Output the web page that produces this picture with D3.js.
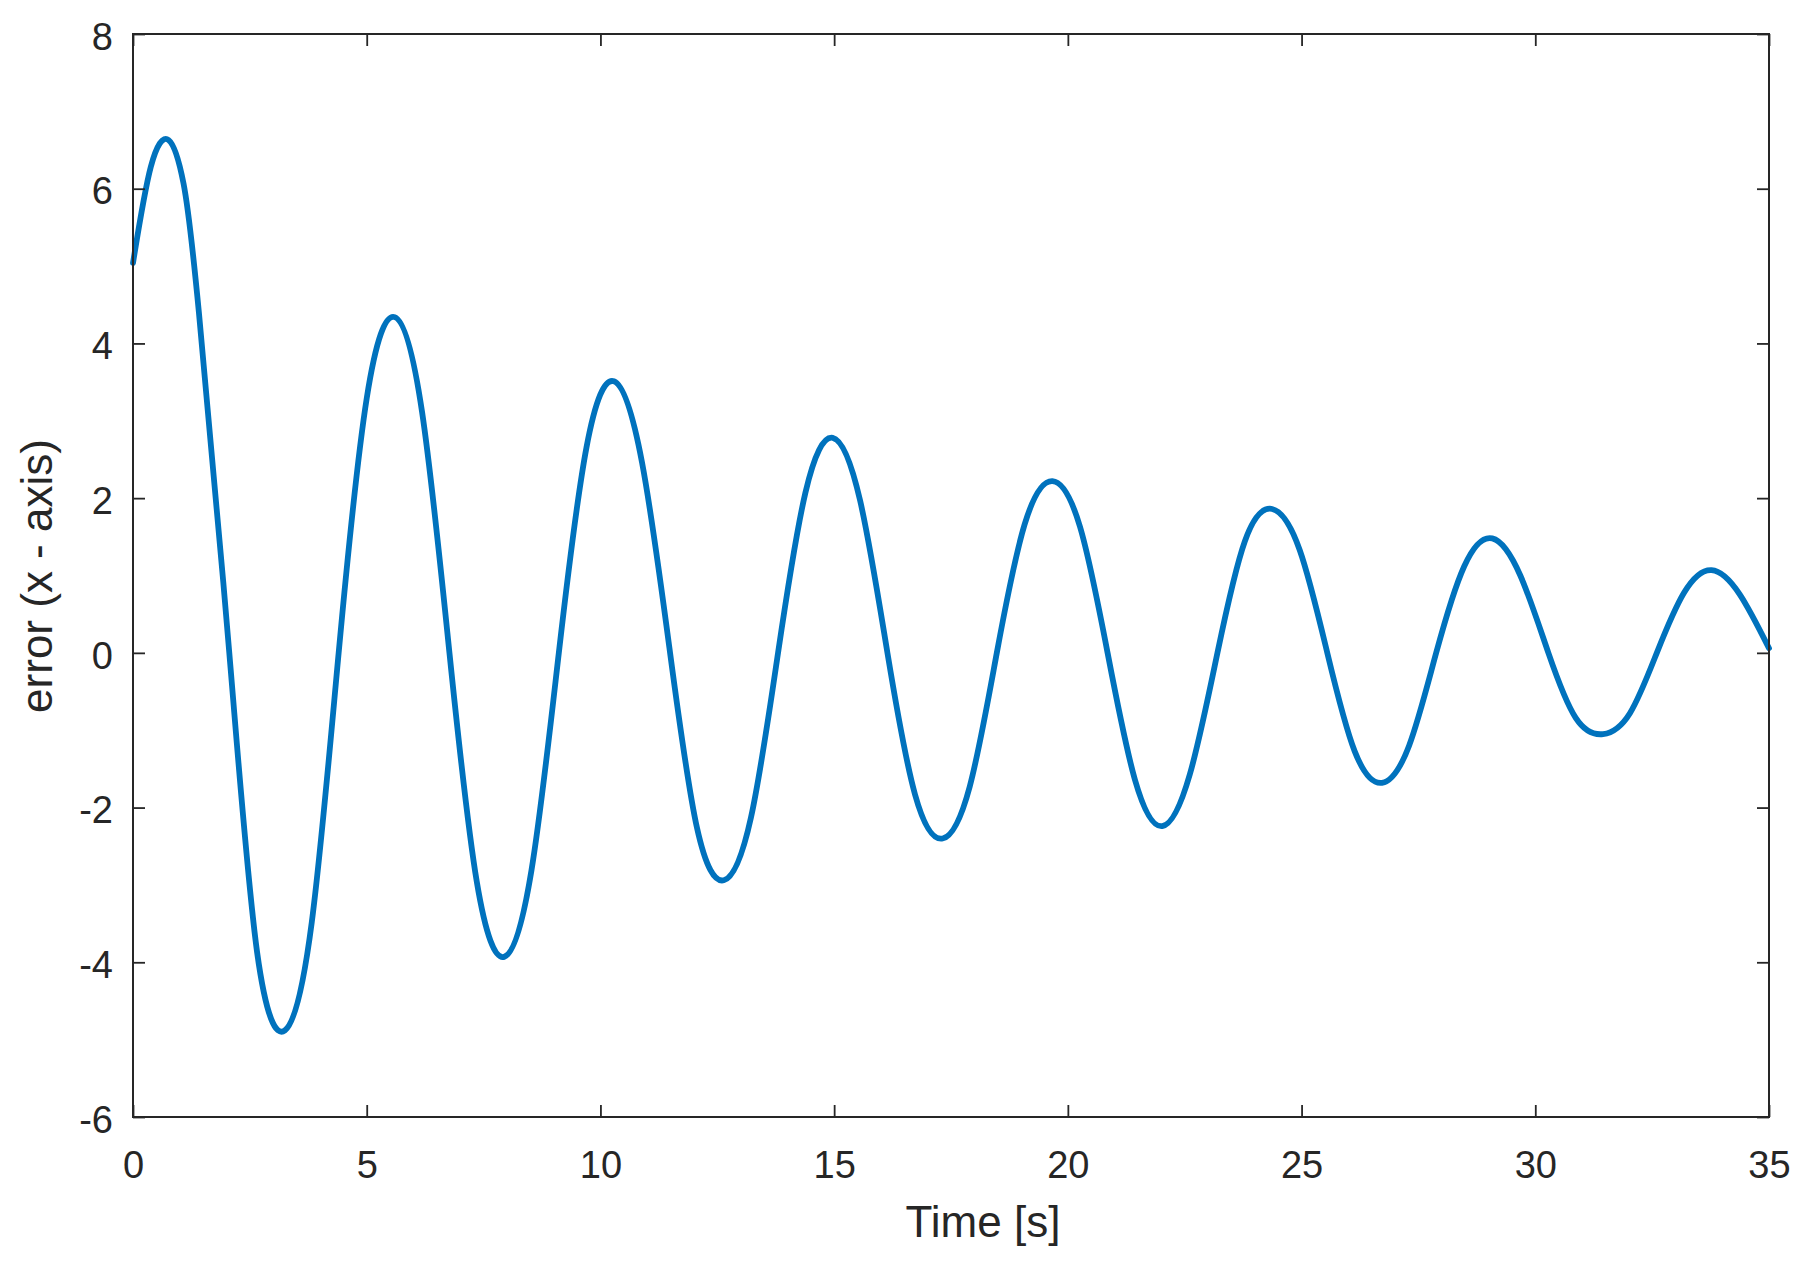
<!DOCTYPE html>
<html>
<head>
<meta charset="utf-8">
<script src="https://cdn.jsdelivr.net/npm/d3@7"></script>
<style>
  html, body { margin: 0; padding: 0; background: #ffffff; }
  svg { display: block; }
  text { font-family: "Liberation Sans", Arial, sans-serif; fill: #262626; }
</style>
</head>
<body>
<svg id="chart" width="1807" height="1270"></svg>
<script>
// ---- data ----
const timeS = [
  0, 0.38, 0.76, 1.08, 1.41, 2.06, 2.655, 3.25, 3.825, 4.40, 5.00, 5.60,
  6.185, 6.77, 7.355, 7.94, 8.525, 9.11, 9.70, 10.29, 10.89, 11.49,
  12.065, 12.64, 13.22, 13.80, 14.385, 14.97, 15.555, 16.14, 16.73, 17.32,
  17.90, 18.48, 19.075, 19.67, 20.26, 20.85, 21.435, 22.02, 22.61, 23.20,
  23.785, 24.37, 24.96, 25.55, 26.135, 26.72, 27.30, 27.88, 28.48, 29.08,
  29.68, 30.28, 30.865, 31.45, 32.025, 32.60, 33.185, 33.77, 34.37, 35
];
const errorX = [
  5.04, 6.28, 6.63, 6.07, 4.40, 0, -3.87, -4.88, -3.48, 0, 3.29, 4.34,
  3.11, 0, -2.96, -3.93, -2.81, 0, 2.65, 3.51, 2.46, 0,
  -2.26, -2.94, -2.13, 0, 2.07, 2.78, 1.97, 0, -1.83, -2.40,
  -1.73, 0, 1.66, 2.22, 1.63, 0, -1.64, -2.24, -1.57, 0,
  1.44, 1.86, 1.33, 0, -1.27, -1.68, -1.20, 0, 1.12, 1.48,
  1.00, 0, -0.84, -1.05, -0.78, 0, 0.78, 1.07, 0.76, 0.06
];
const xTicks = [0, 5, 10, 15, 20, 25, 30, 35];
const yTicks = [-6, -4, -2, 0, 2, 4, 6, 8];
const xLabel = "Time [s]";
const yLabel = "error (x - axis)";

// ---- drawing ----
const svg = d3.select("#chart");
const L = 133, R = 1769, T = 34, B = 1117;
const axisColor = "#262626";

const x = d3.scaleLinear().domain([0, 35]).range([L, R]);
const y = d3.scaleLinear().domain([-6, 8]).range([B, T]);

svg.append("rect").attr("width", 1807).attr("height", 1270).attr("fill", "#fff");

const data = timeS.map((t, i) => ({ t, v: errorX[i] }));

// curve
svg.append("path")
  .datum(data)
  .attr("fill", "none")
  .attr("stroke", "#0072BD")
  .attr("stroke-width", 5.8)
  .attr("stroke-linejoin", "round")
  .attr("stroke-linecap", "round")
  .attr("d", d3.line().x(d => x(d.t)).y(d => y(d.v)).curve(d3.curveNatural));

function styleAxis(g) {
  g.select(".domain").remove();
  g.selectAll(".tick line").attr("stroke", axisColor).attr("stroke-width", 1.8);
  g.selectAll(".tick text")
    .attr("font-family", '"Liberation Sans", Arial, sans-serif')
    .attr("font-size", 38)
    .attr("fill", axisColor);
}

// bottom axis
svg.append("g")
  .attr("transform", `translate(0,${B})`)
  .call(d3.axisBottom(x).tickValues(xTicks).tickSize(-12).tickPadding(34).tickFormat(d3.format("d")))
  .call(styleAxis);

// top axis (ticks only)
svg.append("g")
  .attr("transform", `translate(0,${T})`)
  .call(d3.axisTop(x).tickValues(xTicks).tickSize(-12).tickFormat(""))
  .call(styleAxis);

// left axis
svg.append("g")
  .attr("transform", `translate(${L},0)`)
  .call(d3.axisLeft(y).tickValues(yTicks).tickSize(-12).tickPadding(20).tickFormat(d => String(d).replace("\u2212", "-")))
  .call(styleAxis)
  .call(g => g.selectAll(".tick text").attr("dy", "0.4em"));

// right axis (ticks only)
svg.append("g")
  .attr("transform", `translate(${R},0)`)
  .call(d3.axisRight(y).tickValues(yTicks).tickSize(-12).tickFormat(""))
  .call(styleAxis);

// box
svg.append("rect")
  .attr("x", L).attr("y", T)
  .attr("width", R - L).attr("height", B - T)
  .attr("fill", "none")
  .attr("stroke", axisColor)
  .attr("stroke-width", 2);

// axis titles
svg.append("text")
  .attr("x", 983).attr("y", 1237)
  .attr("text-anchor", "middle")
  .attr("font-size", 44)
  .text(xLabel);

svg.append("text")
  .attr("transform", `translate(52,576) rotate(-90)`)
  .attr("text-anchor", "middle")
  .attr("font-size", 44)
  .text(yLabel);
</script>
</body>
</html>
